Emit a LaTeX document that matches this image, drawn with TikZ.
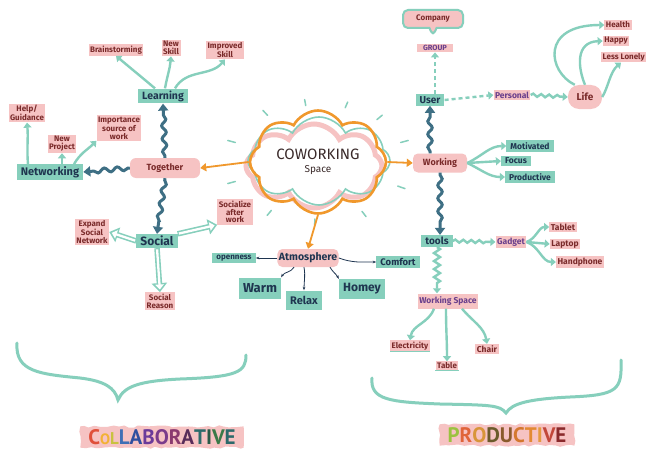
\documentclass[tikz,border=0pt]{standalone}
\usepackage{fontspec}
\setmainfont{Fira Sans}
\newfontfamily\titlefont{PT Sans}
\usetikzlibrary{arrows.meta,decorations.pathmorphing,shapes.symbols,shapes.callouts,calc}
\definecolor{mint}{HTML}{86CFBC}
\definecolor{deepteal}{HTML}{3E6F84}
\definecolor{blush}{HTML}{F6C3C3}
\definecolor{orangeA}{HTML}{F0982C}
\definecolor{maroon}{HTML}{7A2A2A}
\definecolor{navy}{HTML}{1F3550}
\definecolor{plum}{HTML}{6A3F8C}
\definecolor{inkdark}{HTML}{3A2A2A}
% title letter colours
\definecolor{ca}{HTML}{E0503A}\definecolor{cb}{HTML}{F2B234}\definecolor{cc}{HTML}{C9C23F}
\definecolor{cd}{HTML}{3F6FB5}\definecolor{ce}{HTML}{2F4F9F}\definecolor{cf}{HTML}{6B3A9A}
\definecolor{cg}{HTML}{7B3B8B}\definecolor{ch}{HTML}{8B3A6F}\definecolor{ci}{HTML}{5A2D5A}
\definecolor{cj}{HTML}{2D6B6B}\definecolor{ck}{HTML}{2A5A48}\definecolor{cl}{HTML}{3A7A48}
\definecolor{cm}{HTML}{2B6A6B}
\definecolor{pa}{HTML}{9BC23F}\definecolor{pb}{HTML}{E0643A}\definecolor{pc}{HTML}{D8953A}
\definecolor{pd}{HTML}{6B5A2A}\definecolor{pe}{HTML}{8A5A2A}\definecolor{pf}{HTML}{D4782E}
\definecolor{pg}{HTML}{E38A33}\definecolor{ph}{HTML}{E59A3E}\definecolor{pi}{HTML}{C2473A}
\definecolor{pj}{HTML}{8A2A2C}
\newcommand\fsz[1]{\fontsize{#1}{#1}\selectfont\bfseries}
\begin{document}
\begin{tikzpicture}[x=1pt,y=1pt,
  pk/.style={fill=blush, text=maroon, font=\fontsize{8}{7.8}\selectfont\bfseries, inner sep=1.5pt, align=center},
  pkp/.style={pk, text=plum},
  tl/.style={fill=mint, text=navy, font=\fsz{9}, inner xsep=4pt, inner ysep=2pt},
  mar/.style={draw=mint, line width=2.4pt, -{Triangle[length=5pt,width=8pt]}},
  holo/.style={draw=mint, line width=5.5pt, -{Triangle[length=9pt,width=15pt]}},
  holi/.style={draw=white, line width=2.3pt, shorten >=2.6pt, shorten <=1.2pt, -{Triangle[length=5pt,width=8.5pt]}},
  dwave/.style={draw=deepteal, line width=3pt, -{Triangle[length=7pt,width=10pt]}, decorate, decoration={snake, amplitude=2.2pt, segment length=13pt, post length=8pt, pre length=2pt}},
  orar/.style={draw=orangeA, line width=1.8pt, -{Triangle[length=6pt,width=8pt]}},
  tinyar/.style={draw=navy, line width=0.8pt, -{Stealth[length=3.5pt]}},
  msnake/.style={mar, decorate, decoration={snake, amplitude=1.5pt, segment length=8pt, post length=6pt}},
  mzig/.style={mar, decorate, decoration={zigzag, amplitude=3pt, segment length=8pt, post length=8pt}},
  mdash/.style={mar, dash pattern=on 4pt off 3pt},
  cloudbase/.style={cloud, cloud puffs=8, cloud puff arc=125, aspect=1.6, minimum width=136pt, minimum height=84pt},
  titlebg/.style={fill=blush, decorate, decoration={random steps, segment length=5pt, amplitude=1.2pt}, inner xsep=8pt, inner ysep=3pt, font=\titlefont\fsz{21}},
]
\useasboundingbox[fill=white] (0,0) rectangle (648,-452);

% ---------- central cloud ----------
\node[cloudbase, draw=blush, line width=5pt] at (314,-166) {};
\node[cloudbase, draw=mint, line width=1.6pt, minimum width=142pt, minimum height=88pt] at (319,-161) {};
\node[cloudbase, draw=orangeA, line width=2.6pt, text=inkdark, align=center] (cw) at (318,-162)
  {{\fontsize{15}{17}\selectfont COWORKING}\\[1pt]{\fontsize{10}{11}\selectfont Space}};
\foreach \a in {20,48,72,98,125,160,200,238,268,300,335}
  \draw[mint, line width=1.5pt, line cap=round]
    ($(cw.center)+({88*cos(\a)},{57*sin(\a)})$) -- ($(cw.center)+({96*cos(\a)},{63*sin(\a)})$);

% ---------- left cluster ----------
\node[pk, font=\fsz{9}, minimum width=70pt, minimum height=20pt, rounded corners=6pt] (tog) at (165,-168) {Together};
\node[tl, font=\fsz{10.5}] (learn) at (163,-96) {Learning};
\node[pk] (brain) at (116,-50) {Brainstorming};
\node[pk] (nskill) at (171,-48) {New\\Skill};
\node[pk] (iskill) at (225,-50) {Improved\\Skill};
\node[tl, font=\fsz{11}] (net) at (50,-172) {Networking};
\node[pk] (help) at (27,-113) {Help/\\Guidance};
\node[pk] (nproj) at (62,-144) {New\\Project};
\node[pk] (impt) at (119,-128) {Importance\\source of\\work};
\node[tl, font=\fsz{12}] (soc) at (157,-241) {Social};
\node[pk] (expand) at (92,-232) {Expand\\Social\\Network};
\node[pk] (sociz) at (235,-212) {Socialize\\after\\work};
\node[pk] (reason) at (160,-301) {Social\\Reason};

\draw[dwave] (tog.north) -- (learn.south);
\draw[dwave] (tog.west) -- (net.east);
\draw[dwave] (tog.south) -- (soc.north);
\draw[mar] ([xshift=-8pt]learn.north) to[out=140,in=-40] (brain.south);
\draw[mar] ([xshift=2pt]learn.north) to[out=80,in=-95] (nskill.south);
\draw[mar] ([xshift=12pt]learn.north) to[out=60,in=-130] (iskill.south);
\draw[mar] ([xshift=-22pt]net.north) to[out=95,in=-85] (help.south);
\draw[mar] (nproj.south |- net.north) -- (nproj.south);
\draw[mar] ([xshift=24pt]net.north) to[out=60,in=-135] (impt.south west);
\draw[holo] (soc.west) -- (expand.east);
\draw[holi] (soc.west) -- (expand.east);
\draw[holo] (soc.north east) -- (sociz.south west);
\draw[holi] (soc.north east) -- (sociz.south west);
\draw[holo] (soc.south) -- (reason.north);
\draw[holi] (soc.south) -- (reason.north);

% ---------- atmosphere ----------
\node[pk, font=\fsz{10.5}, text=navy, minimum height=18pt, rounded corners=5pt] (atm) at (308,-258) {Atmosphere};
\node[tl, font=\fsz{8}] (open) at (234,-258) {openness};
\node[tl, font=\fsz{9.5}] (comf) at (398,-262) {Comfort};
\node[tl, font=\fsz{13}, minimum height=21pt] (warm) at (260,-288) {Warm};
\node[tl, font=\fsz{11}, minimum height=19pt] (relax) at (304,-300) {Relax};
\node[tl, font=\fsz{12}, minimum height=20pt] (homey) at (362,-289) {Homey};
\draw[tinyar] (atm.west) -- (open.east);
\draw[tinyar] (atm.east) to[out=-20,in=180] (comf.west);
\draw[tinyar] ([xshift=-14pt]atm.south) to[out=-120,in=60] (warm.north east);
\draw[tinyar] ([xshift=-4pt]atm.south) to[out=-80,in=90] (relax.north);
\draw[tinyar] ([xshift=22pt]atm.south) to[out=-60,in=120] (homey.north west);

\draw[orar] (cw.west) -- (tog.east);
\draw[orar] (cw.south) -- (atm.north);

% ---------- right cluster ----------
\node[rectangle callout, callout relative pointer={(0,-8pt)}, draw=mint, line width=2pt, fill=blush,
      rounded corners=5pt, text=maroon, font=\fsz{8}, minimum width=60pt, minimum height=18pt] (comp) at (433,-19) {Company};
\node[pkp, font=\fsz{7.5}, minimum width=36pt] (group) at (435,-48) {GROUP};
\node[tl, font=\fsz{10}] (user) at (430,-100) {User};
\node[pkp, font=\fsz{8.5}] (pers) at (512,-95) {Personal};
\node[pk, font=\fsz{10}, minimum width=34pt, minimum height=24pt, rounded corners=11pt] (life) at (585,-97) {Life};
\node[pk, font=\fsz{8}] (health) at (618,-25) {Health};
\node[pk, font=\fsz{8}] (happy) at (616,-41) {Happy};
\node[pk, font=\fsz{8}, anchor=west] (lonely) at (601,-57) {Less Lonely};
\node[pk, font=\fsz{9}, minimum width=54pt, minimum height=19pt, rounded corners=5pt] (work) at (440,-163) {Working};
\node[tl, font=\fsz{8.5}] (motiv) at (530,-146) {Motivated};
\node[tl, font=\fsz{8.5}] (focus) at (516,-161) {Focus};
\node[tl, font=\fsz{8.5}] (prod) at (530,-177) {Productive};
\node[tl, font=\fsz{10}] (tools) at (437,-241) {tools};
\node[pkp, font=\fsz{8.5}] (gadget) at (511,-242) {Gadget};
\node[pk, font=\fsz{8.5}] (tablet) at (563,-227) {Tablet};
\node[pk, font=\fsz{8.5}] (laptop) at (565,-244) {Laptop};
\node[pk, font=\fsz{8.5}] (hand) at (580,-262) {Handphone};
\node[pkp, font=\fsz{8.5}, minimum height=15pt] (wsp) at (448,-301) {Working Space};
\node[pk, font=\fsz{8}] (elec) at (410,-346) {Electricity};
\node[pk, font=\fsz{8}] (table) at (447,-366) {Table};
\node[pk, font=\fsz{8.5}] (chair) at (487,-349) {Chair};
\draw[mint, line width=1.2pt] (elec.south west) -- (elec.south east);
\draw[mint, line width=1.2pt] (table.south west) -- (table.south east);

\draw[orar] (cw.east) -- (work.west);
\draw[dwave] (work.north -| user.south) -- (user.south);
\draw[dwave] (work.south) -- (work.south |- tools.north);
\draw[mdash] (user.north -| group.south) -- (group.south);
\draw[mdash] (user.east) -- (pers.west);
\draw[msnake] (pers.east) -- (life.west);
\draw[mar] (life.130) .. controls (548,-72) and (540,-25) .. (health.west);
\draw[mar] (life.north) .. controls (578,-68) and (575,-42) .. (happy.west);
\draw[mar] (life.east) .. controls (608,-88) and (610,-72) .. ([xshift=20pt]lonely.south west);
\draw[mar] (work.east) to[out=25,in=180] (motiv.west);
\draw[mar] (work.east) -- (focus.west);
\draw[mar] (work.east) to[out=-25,in=180] (prod.west);
\draw[msnake] (tools.east) -- (gadget.west);
\draw[mzig] (tools.south) -- (tools.south |- wsp.north);
\draw[mar] (gadget.east) to[out=20,in=180] (tablet.west);
\draw[mar] (gadget.east) -- (laptop.west);
\draw[mar] (gadget.east) to[out=-20,in=180] (hand.west);
\draw[mar] ([xshift=-14pt]wsp.south) to[out=-110,in=80] (elec.north);
\draw[mar] ([xshift=-2pt]wsp.south) to[out=-90,in=90] (table.north);
\draw[mar] ([xshift=14pt]wsp.south) to[out=-50,in=100] (chair.north);

% ---------- braces ----------
\draw[mint, line width=3pt, line cap=round]
  (17,-343) .. controls (15,-372) and (40,-374) .. (80,-378)
  .. controls (105,-381) and (115,-388) .. (118,-400)
  .. controls (124,-386) and (140,-381) .. (180,-379)
  .. controls (238,-377) and (246,-372) .. (246,-355);
\draw[mint, line width=3pt, line cap=round]
  (372,-378) .. controls (370,-400) and (390,-402) .. (440,-404)
  .. controls (490,-405) and (500,-405) .. (506,-413)
  .. controls (512,-403) and (530,-399) .. (570,-397)
  .. controls (618,-395) and (622,-390) .. (621,-360);

% ---------- titles ----------
\node[titlebg] (collab) at (162,-437)
  {\textcolor{ca}{C}\textcolor{cb}{\fontsize{15}{15}\selectfont O}\textcolor{cc}{\fontsize{17}{17}\selectfont L}\textcolor{cd}{L}\textcolor{ce}{A}\textcolor{cf}{B}\textcolor{cg}{O}\textcolor{ch}{R}\textcolor{ci}{A}\textcolor{cj}{T}\textcolor{ck}{I}\textcolor{cl}{V}\textcolor{cm}{E}};
\node[titlebg] (produc) at (507,-435)
  {\textcolor{pa}{P}\textcolor{pb}{R}\textcolor{pc}{O}\textcolor{pd}{D}\textcolor{pe}{U}\textcolor{pf}{C}\textcolor{pg}{T}\textcolor{ph}{I}\textcolor{pi}{V}\textcolor{pj}{E}};
\end{tikzpicture}
\end{document}
